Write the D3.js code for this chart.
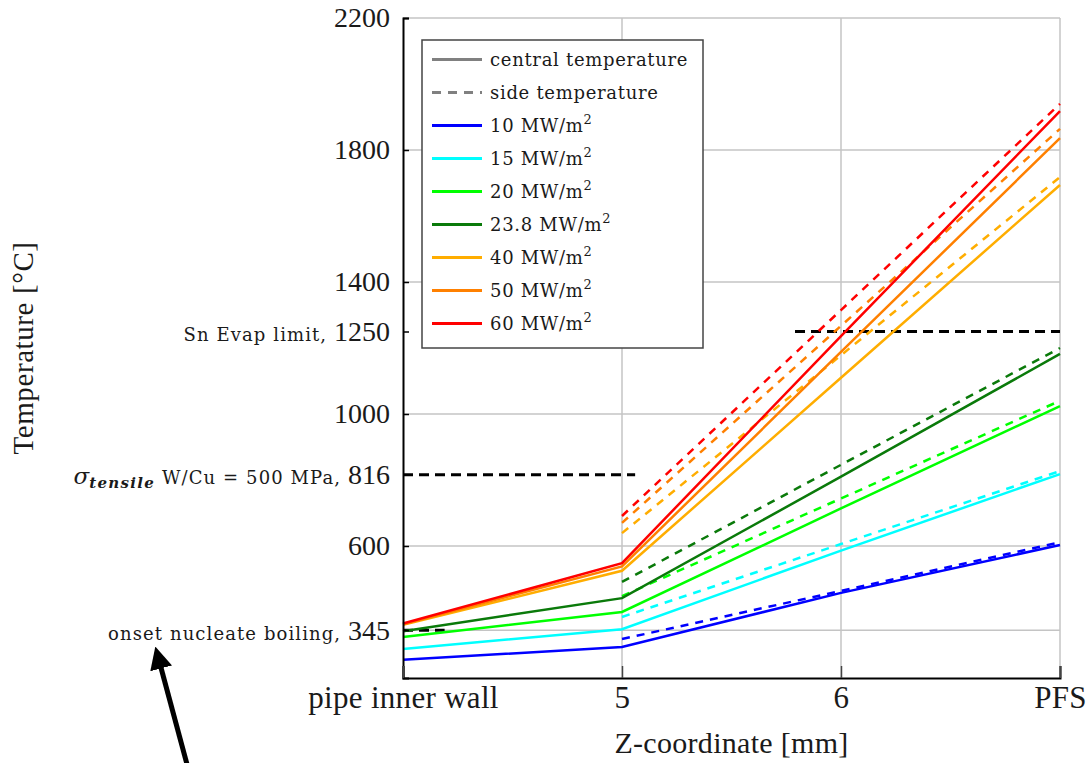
<!DOCTYPE html>
<html><head><meta charset="utf-8">
<script src="https://cdn.jsdelivr.net/npm/d3@7"></script>
<style>body{margin:0;background:#fff}</style>
</head><body><svg id="c" width="1089" height="763"></svg>
<script>
// ---------- data ----------
const categories = ["pipe inner wall", "5", "6", "PFS"];
const fluxLabels = ["10", "15", "20", "23.8", "40", "50", "60"];
const fluxColors = ["#0000ff", "#00ffff", "#00ff00", "#0a7a0a", "#ffad00", "#ff8000", "#ff0000"];
// central temperature (solid), one row per flux, one value per category
const centralTemps = [
  [255, 294, 458, 603],
  [288, 348, 586, 818],
  [324, 400, 714, 1024],
  [342, 442, 810, 1182],
  [361, 525, 1110, 1694],
  [363, 538, 1188, 1836],
  [365, 548, 1236, 1918]
];
// side temperature (dashed), starts at "5"
const sideTemps = [
  [null, 318, 464, 611],
  [null, 385, 606, 827],
  [null, 448, 744, 1040],
  [null, 491, 846, 1200],
  [null, 639, 1178, 1718],
  [null, 670, 1267, 1864],
  [null, 691, 1315, 1940]
];
const yTicks = [345, 600, 816, 1000, 1250, 1400, 1800, 2200];
const gridValues = [345, 600, 1000, 1400, 1800, 2200];
const refValues = [345, 816, 1250];
const refFrom = [0, 0, 1.79];   // in category-index units
const refTo = [0.19, 1.06, 3];
const yDomain = [200, 2200];

// ---------- layout ----------
const svg = d3.select("#c");
const M = {left: 403, right: 1060, top: 18, bottom: 678};
const x = d3.scalePoint().domain(categories).range([M.left, M.right]);
const xi = d3.scaleLinear().domain([0, categories.length - 1]).range([M.left, M.right]);
const y = d3.scaleLinear().domain(yDomain).range([M.bottom, M.top]);
const serif = "'Liberation Serif', 'Times New Roman', serif";
const small = "'DejaVu Serif', serif";
const ink = "#1a1a1a";

// grid
svg.append("g").selectAll("line").data(gridValues).join("line")
  .attr("x1", M.left).attr("x2", M.right)
  .attr("y1", d => y(d)).attr("y2", d => y(d))
  .attr("stroke", "#c4c4c4").attr("stroke-width", 1.5);
svg.append("g").selectAll("line").data(categories.slice(1)).join("line")
  .attr("x1", d => x(d)).attr("x2", d => x(d))
  .attr("y1", M.top).attr("y2", M.bottom)
  .attr("stroke", "#c4c4c4").attr("stroke-width", 1.5);

// reference dashed lines
svg.append("g").selectAll("line").data(refValues).join("line")
  .attr("x1", (d, i) => xi(refFrom[i])).attr("x2", (d, i) => xi(refTo[i]))
  .attr("y1", d => y(d)).attr("y2", d => y(d))
  .attr("stroke", "#000").attr("stroke-width", 3).attr("stroke-dasharray", "10,6");

// series
const line = d3.line().defined(d => d.v != null).x(d => x(d.c)).y(d => y(d.v));
fluxLabels.forEach((f, i) => {
  svg.append("path")
    .datum(centralTemps[i].map((v, j) => ({c: categories[j], v})))
    .attr("d", line).attr("fill", "none")
    .attr("stroke", fluxColors[i]).attr("stroke-width", 2.5);
  svg.append("path")
    .datum(sideTemps[i].map((v, j) => ({c: categories[j], v})))
    .attr("d", line).attr("fill", "none")
    .attr("stroke", fluxColors[i]).attr("stroke-width", 2.5)
    .attr("stroke-dasharray", "8,7");
});

// y axis
const gy = svg.append("g").attr("transform", `translate(${M.left},0)`)
  .call(d3.axisLeft(y).tickValues(yTicks).tickSize(-6).tickPadding(13));
gy.attr("font-family", serif).attr("font-size", 28);
gy.select(".domain").attr("stroke", "#000").attr("stroke-width", 2);
gy.selectAll(".tick line").attr("stroke", "#000").attr("stroke-width", 1.5);
gy.selectAll(".tick text").attr("fill", ink).each(function (d) {
  const t = d3.select(this);
  t.text(null);
  const pre = (s) => t.append("tspan").attr("font-family", small).attr("font-size", 18)
    .attr("letter-spacing", 1.1).text(s);
  if (d === 345) {
    pre("onset nucleate boiling, ");
  } else if (d === 1250) {
    pre("Sn Evap limit, ");
  } else if (d === 816) {
    t.append("tspan").attr("font-family", small).attr("font-size", 23).attr("font-style", "italic").text("σ");
    t.append("tspan").attr("font-family", small).attr("font-size", 15).attr("font-style", "italic")
      .attr("font-weight", "bold").attr("letter-spacing", 1.3).attr("dy", 4).text("tensile");
    pre(" W/Cu = 500 MPa, ").attr("dy", -4);
  }
  t.append("tspan").text(d);
});

// x axis
const gx = svg.append("g").attr("transform", `translate(0,${M.bottom})`)
  .call(d3.axisBottom(x).tickSize(-12).tickPadding(8));
gx.attr("font-family", serif).attr("font-size", 31);
gx.select(".domain").attr("stroke", "#000").attr("stroke-width", 2);
gx.selectAll(".tick line").attr("stroke", "#444").attr("stroke-width", 1.5);
gx.selectAll(".tick text").attr("fill", ink).attr("letter-spacing", 0.3);

// axis titles
svg.append("text").attr("transform", `translate(33,348) rotate(-90)`)
  .attr("text-anchor", "middle").attr("font-family", serif).attr("font-size", 29)
  .attr("letter-spacing", 0.6).attr("fill", ink)
  .text("Temperature [°C]");
svg.append("text").attr("x", (M.left + M.right) / 2).attr("y", 753)
  .attr("text-anchor", "middle").attr("font-family", serif).attr("font-size", 30)
  .attr("letter-spacing", 0.3).attr("fill", ink)
  .text("Z-coordinate [mm]");

// legend
const lg = svg.append("g");
lg.append("rect").attr("x", 422).attr("y", 40).attr("width", 281).attr("height", 308)
  .attr("fill", "#fff").attr("stroke", "#444").attr("stroke-width", 1.5);
const legendLabels = ["central temperature", "side temperature"].concat(fluxLabels);
const legendColors = ["#808080", "#808080"].concat(fluxColors);
legendLabels.forEach((lab, i) => {
  const yy = 59.5 + i * 33;
  lg.append("line").attr("x1", 432).attr("x2", 482).attr("y1", yy).attr("y2", yy)
    .attr("stroke", legendColors[i]).attr("stroke-width", 3)
    .attr("stroke-dasharray", i === 1 ? "9,7" : null);
  const t = lg.append("text").attr("x", 490).attr("y", yy + 6)
    .attr("font-family", small).attr("font-size", 18).attr("letter-spacing", 0.7).attr("fill", ink);
  if (i < 2) t.text(lab);
  else {
    t.append("tspan").text(lab + " MW/m");
    t.append("tspan").attr("font-size", 13).attr("dy", -8).text("2");
  }
});

// arrow annotation
const defs = svg.append("defs");
defs.append("marker").attr("id", "ah").attr("viewBox", "0 0 10 10").attr("refX", 2).attr("refY", 5)
  .attr("markerWidth", 4.5).attr("markerHeight", 4.5).attr("orient", "auto")
  .append("path").attr("d", "M0,0 L10,5 L0,10 Z").attr("fill", "#000");
svg.append("line").attr("x1", 188).attr("y1", 768).attr("x2", 160).attr("y2", 664)
  .attr("stroke", "#000").attr("stroke-width", 5).attr("marker-end", "url(#ah)");
</script></body></html>
